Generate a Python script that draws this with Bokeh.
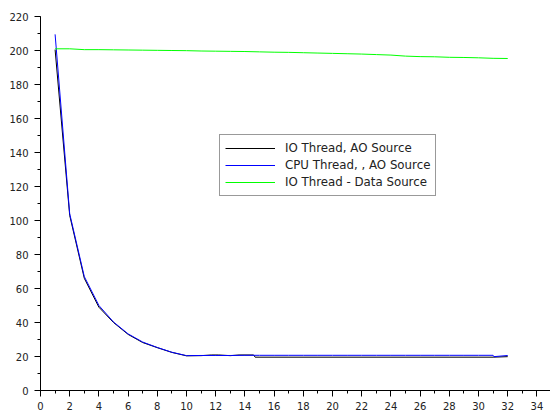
from bokeh.plotting import figure
from bokeh.models import Range1d, SingleIntervalTicker, Legend, LegendItem
from bokeh.embed import file_html
from bokeh.resources import INLINE

# IO Thread, AO Source (black)
io_ao_x = [1, 2, 3, 4, 5, 6, 7, 8, 9, 10, 11, 11.7, 12.2, 13, 13.6, 14.6, 14.7, 31, 32]
io_ao_y = [200.5, 103, 66, 49, 40, 33, 28.2, 25.2, 22.4, 20.4, 20.5, 20.9, 20.9, 20.5, 20.9, 20.9, 19.6, 19.6, 19.9]

# CPU Thread, , AO Source (blue)
cpu_ao_x = [1, 2, 3, 4, 5, 6, 7, 8, 9, 10, 11, 12, 13, 14, 15, 16, 17, 18, 19, 20, 21,
            22, 23, 24, 25, 26, 27, 28, 29, 30, 31, 31.05, 32]
cpu_ao_y = [209.5, 104, 67, 50, 40.3, 33.3, 28.5, 25.3, 22.5, 20.5, 20.6, 20.6, 20.6, 20.7,
            20.7, 20.7, 20.7, 20.7, 20.7, 20.7, 20.7, 20.7, 20.7, 20.7, 20.7, 20.7, 20.7,
            20.7, 20.7, 20.7, 20.7, 19.9, 20.6]

# IO Thread - Data Source (green)
io_data_x = list(range(1, 33))
io_data_y = [201.0, 201.0, 200.5, 200.5, 200.4, 200.3, 200.2, 200.1, 200.0, 199.9, 199.7,
             199.6, 199.5, 199.4, 199.2, 199.0, 198.9, 198.7, 198.5, 198.3, 198.1, 197.9,
             197.6, 197.3, 196.7, 196.4, 196.3, 196.0, 195.9, 195.7, 195.4, 195.3]

labels = ["IO Thread, AO Source", "CPU Thread, , AO Source", "IO Thread - Data Source"]

p = figure(width=550, height=414, output_backend="svg", toolbar_location=None,
           x_range=Range1d(0, 34.93), y_range=Range1d(0, 220),
           min_border_left=40, min_border_right=0, min_border_top=16, min_border_bottom=24)
p.outline_line_color = None
p.xgrid.visible = False
p.ygrid.visible = False
p.background_fill_color = "white"

r1 = p.line(io_ao_x, io_ao_y, line_color="black", line_width=1)
r2 = p.line(cpu_ao_x, cpu_ao_y, line_color="#0000ff", line_width=1)
r3 = p.line(io_data_x, io_data_y, line_color="#00ff00", line_width=1)

p.xaxis.ticker = SingleIntervalTicker(interval=2, num_minor_ticks=2)
p.yaxis.ticker = SingleIntervalTicker(interval=20, num_minor_ticks=2)
for ax in (p.xaxis[0], p.yaxis[0]):
    ax.axis_line_color = "black"
    ax.major_tick_line_color = "black"
    ax.minor_tick_line_color = "black"
    ax.major_tick_in = 0
    ax.major_tick_out = 6
    ax.minor_tick_in = 0
    ax.minor_tick_out = 3
    ax.major_label_text_font = "DejaVu Sans"
    ax.major_label_text_font_size = "10px"
    ax.major_label_text_color = "#222222"
p.xaxis.major_label_standoff = 5
p.yaxis.major_label_standoff = 6

legend = Legend(items=[LegendItem(label=labels[0], renderers=[r1]),
                       LegendItem(label=labels[1], renderers=[r2]),
                       LegendItem(label=labels[2], renderers=[r3])],
                location=(179, 194))
legend.border_line_color = "#333333"
legend.border_line_width = 1
legend.background_fill_color = "white"
legend.background_fill_alpha = 1.0
legend.padding = 5
legend.spacing = 1
legend.margin = 0
legend.label_height = 16
legend.glyph_height = 16
legend.glyph_width = 50
legend.label_standoff = 10
legend.label_text_font = "DejaVu Sans"
legend.label_text_font_size = "11.8px"
legend.label_text_color = "#222222"
p.add_layout(legend, "center")

open("out.html", "w").write(file_html(p, INLINE))
